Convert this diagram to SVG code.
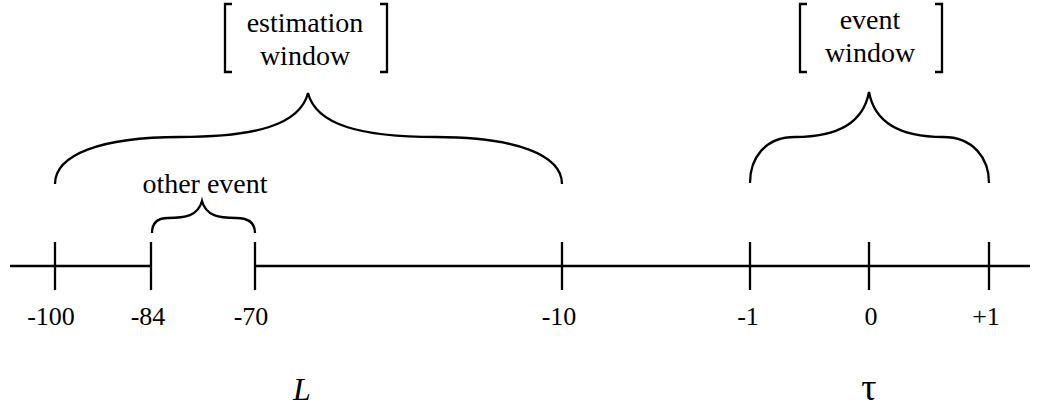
<svg xmlns="http://www.w3.org/2000/svg" width="1041" height="411" viewBox="0 0 1041 411">
<style>
.ln{fill:none;stroke:#000;stroke-width:2.3;stroke-linecap:butt}
text{font-family:'Liberation Serif','Times New Roman','DejaVu Serif',serif;fill:#000;text-anchor:middle}
.t{font-size:28px}
.lb{font-size:26px}
.v{font-size:32px}
.tau{font-size:38px}
</style>
<rect width="1041" height="411" fill="#fff"/>
<g id="connectors">
<path class="ln" d="M10,266 H151 M255,266 H1030"/>
<path class="ln" d="M55,242 V290 M151,242 V290 M255,242 V290 M562,242 V290 M750,242 V290 M869,242 V290 M989,242 V290"/>
</g>
<g id="estimation-brace">
<path class="ln" d="M55,184 C55,155 100,137 180,137 C255,137 300,125 308,93 C316,125 361,137 436,137 C516,137 562,155 562,184"/>
</g>
<g id="event-brace">
<path class="ln" d="M750,183 C750,158 765,137 795,137 C825,137 862,130 869,92 C876,130 913,137 943,137 C973,137 989,158 989,183"/>
</g>
<g id="other-event-brace">
<path class="ln" d="M152,233 C152,224 156,218 168,218 C185,218 198,216 202,201 C206,216 219,218 236,218 C250,218 255,224 255,233"/>
<text class="t" x="205" y="193">other event</text>
</g>
<g id="estimation-window">
<path class="ln" d="M232,4 H225 V72 H232 M380,4 H387 V72 H380"/>
<text class="t" x="305" y="32">estimation</text>
<text class="t" x="305" y="65">window</text>
</g>
<g id="event-window">
<path class="ln" d="M807,4 H800 V72 H807 M935,4 H942 V72 H935"/>
<text class="t" x="870" y="29">event</text>
<text class="t" x="870" y="62">window</text>
</g>
<g id="labels">
<text class="lb" x="51" y="325">-100</text>
<text class="lb" x="148" y="325">-84</text>
<text class="lb" x="251" y="325">-70</text>
<text class="lb" x="559" y="325">-10</text>
<text class="lb" x="748" y="325">-1</text>
<text class="lb" x="871" y="325">0</text>
<text class="lb" x="986" y="325">+1</text>
<text class="v" x="302" y="400" font-style="italic">L</text>
<text class="tau" x="869" y="400">τ</text>
</g>
</svg>
